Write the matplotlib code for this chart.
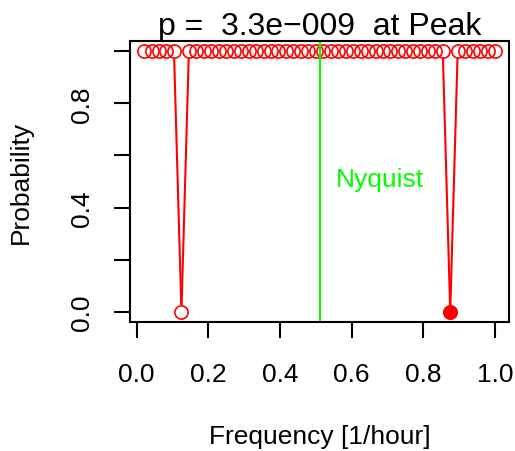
import matplotlib
matplotlib.use("Agg")
import numpy as np
import matplotlib.pyplot as plt

plt.rcParams['font.family'] = ['Liberation Sans', 'DejaVu Sans']

# ---- data ----
freq = [0.0208, 0.0417, 0.0625, 0.0833, 0.1042, 0.125, 0.1458, 0.1667,
        0.1875, 0.2083, 0.2292, 0.25, 0.2708, 0.2917, 0.3125, 0.3333,
        0.3542, 0.375, 0.3958, 0.4167, 0.4375, 0.4583, 0.4792, 0.5,
        0.5208, 0.5417, 0.5625, 0.5833, 0.6042, 0.625, 0.6458, 0.6667,
        0.6875, 0.7083, 0.7292, 0.75, 0.7708, 0.7917, 0.8125, 0.8333,
        0.8542, 0.875, 0.8958, 0.9167, 0.9375, 0.9583, 0.9792, 1.0]
prob = [1.0, 1.0, 1.0, 1.0, 1.0, 0.0, 1.0, 1.0,
        1.0, 1.0, 1.0, 1.0, 1.0, 1.0, 1.0, 1.0,
        1.0, 1.0, 1.0, 1.0, 1.0, 1.0, 1.0, 1.0,
        1.0, 1.0, 1.0, 1.0, 1.0, 1.0, 1.0, 1.0,
        1.0, 1.0, 1.0, 1.0, 1.0, 1.0, 1.0, 1.0,
        1.0, 0.0, 1.0, 1.0, 1.0, 1.0, 1.0, 1.0]
peak_freq = 0.875
peak_prob = 0.0
nyquist = 0.511
title_txt = "p =  3.3e\u2212009  at Peak"

fig = plt.figure(figsize=(5.15, 4.52), dpi=100)
ax = fig.add_axes([130/515, 1-323/452, 379/515, 281/452])
ax.set_xlim(-0.0185, 1.039)
ax.set_ylim(-0.04, 1.04)

# R type="b": line segments with gaps around each point
gap = 6.5  # px
pts = ax.transData.transform(np.column_stack([freq, prob]))
inv = ax.transData.inverted()
for (x0, y0), (x1, y1) in zip(pts[:-1], pts[1:]):
    d = np.hypot(x1 - x0, y1 - y0)
    if d <= 2 * gap:
        continue
    ux, uy = (x1 - x0) / d, (y1 - y0) / d
    a = inv.transform((x0 + ux * gap, y0 + uy * gap))
    b = inv.transform((x1 - ux * gap, y1 - uy * gap))
    ax.plot([a[0], b[0]], [a[1], b[1]], color='red', lw=1.5,
            solid_capstyle='butt')

ax.plot(freq, prob, linestyle='none', marker='o', ms=9.5, mfc='none',
        mec='red', mew=1.2)
ax.plot([peak_freq], [peak_prob], linestyle='none', marker='o', ms=9.5,
        color='red')

ax.axvline(nyquist, color='#00ff00', lw=1.5)
ax.text(0.68, 0.51, "Nyquist", color='#00ff00', fontsize=19,
        ha='center', va='center')

ax.set_xticks([0.0, 0.2, 0.4, 0.6, 0.8, 1.0])
ax.set_xticklabels(["0.0", "0.2", "0.4", "0.6", "0.8", "1.0"])
ax.set_yticks([0.0, 0.2, 0.4, 0.6, 0.8, 1.0])
ax.set_yticklabels(["0.0", "", "0.4", "", "0.8", ""], rotation=90,
                   va='center')
ax.tick_params(direction='out', length=11.5, width=1.5, labelsize=19)
ax.tick_params(axis='x', pad=17)
ax.tick_params(axis='y', pad=14.5)
for s in ax.spines.values():
    s.set_linewidth(1.5)

ax.set_title(title_txt, fontsize=23, pad=1)
ax.set_xlabel("Frequency [1/hour]", fontsize=19, labelpad=28)
ax.set_ylabel("Probability", fontsize=19, labelpad=27)

fig.savefig("out.png", dpi=100)
